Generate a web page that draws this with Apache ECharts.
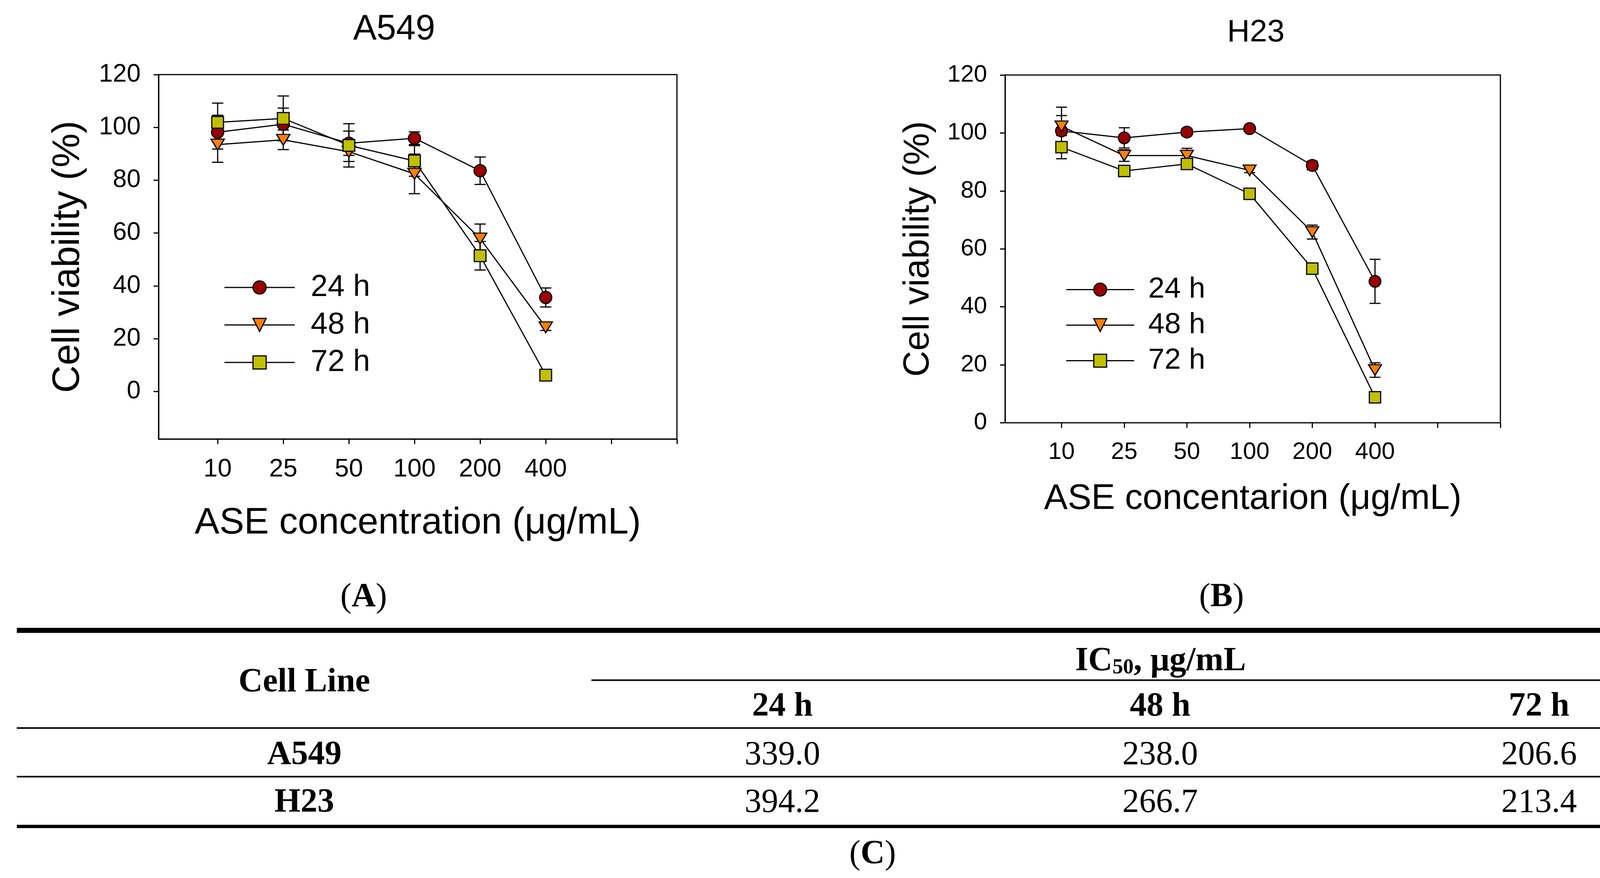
<!DOCTYPE html>
<html>
<head>
<meta charset="utf-8">
<script src="https://cdn.jsdelivr.net/npm/echarts@6/dist/echarts.min.js"></script>
<style>
html,body{margin:0;padding:0;background:#fff;}
#chart{width:4457px;height:2248px;}
</style>
</head>
<body>
<div id="chart"></div>
<script>
// ---------- data ----------
const concentrations = ['10', '25', '50', '100', '200', '400'];
const timeLabels = ['24 h', '48 h', '72 h'];

const a549_24h = [98.2, 101.2, 94.0, 95.9, 83.6, 35.6];
const a549_24h_sd = [6.4, 6.1, 4.6, 2.4, 5.2, 3.6];
const a549_48h = [93.5, 95.3, 90.8, 82.4, 57.9, 24.3];
const a549_48h_sd = [6.7, 3.7, 3.7, 7.5, 5.5, 1.2];
const a549_72h = [101.9, 103.4, 93.2, 87.3, 51.4, 6.2];
const a549_72h_sd = [7.3, 8.5, 8.2, 5.8, 5.4, 0.8];

const h23_24h = [100.7, 98.3, 100.3, 101.5, 88.8, 48.8];
const h23_24h_sd = [5.3, 3.5, 1.3, 1.0, 1.5, 7.6];
const h23_48h = [102.3, 92.2, 92.2, 87.1, 65.8, 18.2];
const h23_48h_sd = [6.6, 2.0, 2.5, 0.8, 2.4, 2.5];
const h23_72h = [95.1, 86.9, 89.3, 79.0, 53.2, 8.8];
const h23_72h_sd = [4.0, 1.0, 1.0, 1.0, 1.0, 0.8];

const yTicks = [0, 20, 40, 60, 80, 100, 120];

const tableCellLines = ['A549', 'H23'];
const ic50_A549 = [339.0, 238.0, 206.6];
const ic50_H23 = [394.2, 266.7, 213.4];

// ---------- helpers ----------
const SANS = 'Liberation Sans';
const SERIF = 'Liberation Serif';
const xPositions = concentrations.map((c, i) => i + 1);
const xTickPositions = [1, 2, 3, 4, 5, 6, 7, 8];

function pts(vals) { return vals.map((v, i) => [xPositions[i], v]); }
function errPts(vals, sd) { return vals.map((v, i) => [xPositions[i], v, sd[i]]); }

function errRender(capW) {
  return function (params, api) {
    const x = api.value(0), y = api.value(1), e = api.value(2);
    const top = api.coord([x, y + e]);
    const bot = api.coord([x, y - e]);
    const h = capW / 2;
    const st = { stroke: '#000', lineWidth: 3, fill: null };
    return {
      type: 'group',
      children: [
        { type: 'line', shape: { x1: top[0], y1: top[1], x2: bot[0], y2: bot[1] }, style: st },
        { type: 'line', shape: { x1: top[0] - h, y1: top[1], x2: top[0] + h, y2: top[1] }, style: st },
        { type: 'line', shape: { x1: bot[0] - h, y1: bot[1], x2: bot[0] + h, y2: bot[1] }, style: st }
      ]
    };
  };
}

const styles = [
  { symbol: 'circle', color: '#990000', rotate: 0 },
  { symbol: 'triangle', color: '#FF8000', rotate: 180 },
  { symbol: 'rect', color: '#C0C000', rotate: 0 }
];

function makeSeries(gridIdx, sets, sizes, capW, tag) {
  const out = [];
  sets.forEach((s, k) => {
    out.push({
      type: 'custom', name: 'SD ' + timeLabels[k] + ' ' + tag,
      xAxisIndex: gridIdx, yAxisIndex: gridIdx,
      renderItem: errRender(capW),
      encode: { x: 0, y: 1 },
      data: errPts(s.v, s.sd), z: 2
    });
    out.push({
      type: 'line', name: timeLabels[k],
      xAxisIndex: gridIdx, yAxisIndex: gridIdx,
      data: pts(s.v),
      symbol: styles[k].symbol,
      symbolRotate: styles[k].rotate,
      symbolSize: sizes[k],
      showAllSymbol: true,
      lineStyle: { color: '#000', width: 3 },
      itemStyle: { color: styles[k].color, borderColor: '#000', borderWidth: 3 },
      z: 2
    });
  });
  return out;
}

function xAxisCfg(gridIdx, labelSize, name, nameSize, nameGap, labelMargin) {
  return {
    type: 'value', gridIndex: gridIdx, min: 0.1, max: 8,
    position: 'bottom',
    axisLine: { show: true, onZero: false, lineStyle: { color: '#000', width: 3 } },
    axisTick: { show: true, customValues: xTickPositions, length: 13, inside: false, lineStyle: { color: '#000', width: 3 } },
    axisLabel: {
      show: true, customValues: xPositions, margin: labelMargin,
      formatter: v => concentrations[Math.round(v) - 1],
      fontFamily: SANS, fontSize: labelSize, color: '#000'
    },
    splitLine: { show: false },
    name: name, nameLocation: 'middle', nameGap: nameGap,
    nameTextStyle: { fontFamily: SANS, fontSize: nameSize, color: '#000' }
  };
}

function yAxisCfg(gridIdx, min, labelSize, nameSize, nameGap) {
  return {
    type: 'value', gridIndex: gridIdx, min: min, max: 120,
    axisLine: { show: true, onZero: false, lineStyle: { color: '#000', width: 3 } },
    axisTick: { show: true, customValues: yTicks, length: 13, lineStyle: { color: '#000', width: 3 } },
    axisLabel: { show: true, customValues: yTicks, margin: 46, fontFamily: SANS, fontSize: labelSize, color: '#000' },
    splitLine: { show: false },
    name: 'Cell viability (%)', nameLocation: 'middle', nameGap: nameGap,
    nameTextStyle: { fontFamily: SANS, fontSize: nameSize, color: '#000' }
  };
}

// ---------- table graphics ----------
const g = [];
function rule(y, x1, x2, w) {
  g.push({ type: 'line', shape: { x1: x1, y1: y, x2: x2, y2: y }, style: { stroke: '#000', lineWidth: w }, silent: true });
}
function txt(x, y, text, bold, size, rich) {
  const el = {
    type: 'text', x: x, y: y, silent: true,
    style: {
      text: text, fill: '#000', align: 'center', verticalAlign: 'middle',
      font: (bold ? 'bold ' : '') + (size || 86) + 'px "' + SERIF + '"'
    }
  };
  if (rich) el.style.rich = rich;
  g.push(el);
}
const TS = 86;
const richPanel = {
  p: { fontFamily: SERIF, fontSize: TS, fontWeight: 'normal', fill: '#000' },
  b: { fontFamily: SERIF, fontSize: TS, fontWeight: 'bold', fill: '#000' }
};
txt(931, 1530, '{p|(}{b|A}{p|)}', false, TS, richPanel);
txt(3127, 1530, '{p|(}{b|B}{p|)}', false, TS, richPanel);
txt(2234, 2188, '{p|(}{b|C}{p|)}', false, TS, richPanel);

rule(1614, 43, 4425, 13);
rule(1741.5, 1514, 4425, 4);
rule(1864, 43, 4425, 4);
rule(1988.5, 43, 4425, 4);
rule(2116, 43, 4425, 8.5);

txt(779, 1748, 'Cell Line', true);
txt(2971, 1694, '{b|IC}{s|50}{b|, μg/mL}', true, TS, {
  b: { fontFamily: SERIF, fontSize: TS, fontWeight: 'bold', fill: '#000' },
  s: { fontFamily: SERIF, fontSize: 54, fontWeight: 'bold', fill: '#000', verticalAlign: 'bottom', padding: [0, 0, 0, 0] }
});
const colX = [2003, 2970, 3940];
timeLabels.forEach((t, i) => txt(colX[i], 1810, t, true));
const rowY = [1934, 2056];
const rowsVals = [ic50_A549, ic50_H23];
tableCellLines.forEach((c, r) => {
  txt(779, rowY[r], c, true);
  rowsVals[r].forEach((v, i) => txt(colX[i], rowY[r], v.toFixed(1), false));
});

// ---------- option ----------
const option = {
  animation: false,
  backgroundColor: '#fff',
  title: [
    { text: 'A549', left: 1004, top: 26, textAlign: 'center',
      textStyle: { fontFamily: SANS, fontSize: 90, fontWeight: 'normal', color: '#000' } },
    { text: 'H23', left: 3210, top: 39, textAlign: 'center',
      textStyle: { fontFamily: SANS, fontSize: 80, fontWeight: 'normal', color: '#000' } }
  ],
  legend: [
    { data: timeLabels, orient: 'vertical', left: 568, top: 692, itemWidth: 180, itemHeight: 42, itemGap: 18,
      selectedMode: false,
      lineStyle: { width: 3, color: '#000' },
      itemStyle: { borderWidth: 3, borderColor: '#000' },
      textStyle: { fontFamily: SANS, fontSize: 78, color: '#000', padding: [0, 0, 0, 36] } },
    { data: timeLabels, orient: 'vertical', left: 2723, top: 699, itemWidth: 174, itemHeight: 41, itemGap: 16,
      selectedMode: false,
      lineStyle: { width: 3, color: '#000' },
      itemStyle: { borderWidth: 3, borderColor: '#000' },
      textStyle: { fontFamily: SANS, fontSize: 75, color: '#000', padding: [0, 0, 0, 31] } }
  ],
  grid: [
    { left: 406, top: 191, width: 1327, height: 933, show: true, borderColor: '#000', borderWidth: 3, backgroundColor: 'transparent' },
    { left: 2573, top: 192, width: 1268, height: 890.5, show: true, borderColor: '#000', borderWidth: 3, backgroundColor: 'transparent' }
  ],
  xAxis: [
    xAxisCfg(0, 65, 'ASE concentration (μg/mL)', 95, 168, 46),
    xAxisCfg(1, 61, 'ASE concentarion (μg/mL)', 91, 150, 45)
  ],
  yAxis: [
    yAxisCfg(0, -18, 64, 98, 182),
    yAxisCfg(1, 0, 61, 92, 175)
  ],
  series: [].concat(
    makeSeries(0, [
      { v: a549_24h, sd: a549_24h_sd },
      { v: a549_48h, sd: a549_48h_sd },
      { v: a549_72h, sd: a549_72h_sd }
    ], [31, [34, 28], 30], 29, 'A549'),
    makeSeries(1, [
      { v: h23_24h, sd: h23_24h_sd },
      { v: h23_48h, sd: h23_48h_sd },
      { v: h23_72h, sd: h23_72h_sd }
    ], [30, [33, 27], 29], 28, 'H23')
  ),
  graphic: g
};

const chart = echarts.init(document.getElementById('chart'), null, { renderer: 'canvas' });
chart.setOption(option);
</script>
</body>
</html>
